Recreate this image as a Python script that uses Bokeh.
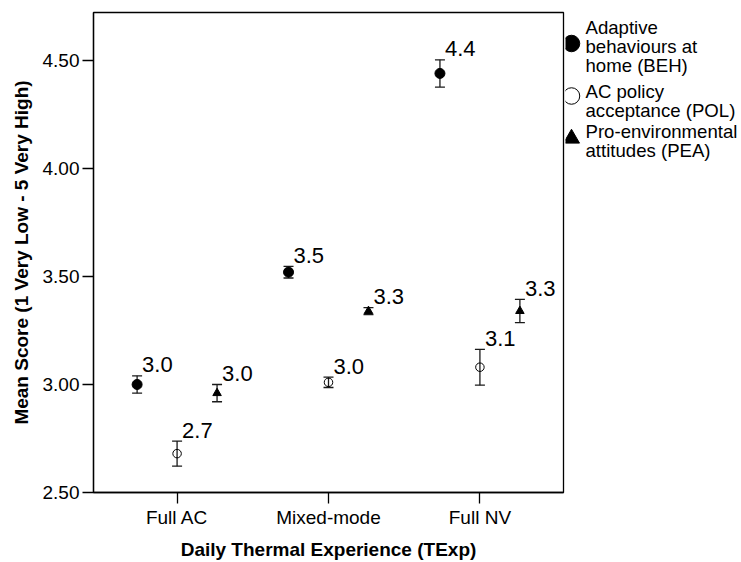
from bokeh.plotting import figure
from bokeh.layouts import row
from bokeh.models import (Range1d, FixedTicker, ColumnDataSource, Whisker,
                          TeeHead, PrintfTickFormatter)
from bokeh.core.properties import value
from bokeh.embed import file_html
from bokeh.resources import INLINE

# ---- data -------------------------------------------------------------
categories = ["Full AC", "Mixed-mode", "Full NV"]

beh_mean = [3.00, 3.52, 4.44]      # Adaptive behaviours at home (BEH)
beh_err = [0.040, 0.027, 0.063]

pol_mean = [2.68, 3.01, 3.08]      # AC policy acceptance (POL)
pol_err = [0.058, 0.024, 0.083]

pea_mean = [2.96, 3.34, 3.34]      # Pro-environmental attitudes (PEA)
pea_err = [0.040, 0.016, 0.054]

legend_lines = [
    ["Adaptive", "behaviours at", "home (BEH)"],
    ["AC policy", "acceptance (POL)"],
    ["Pro-environmental", "attitudes (PEA)"],
]

y_ticks = [2.5, 3.0, 3.5, 4.0, 4.5]

# ---- styling ----------------------------------------------------------
FONT = "Liberation Sans"
INK = "#000000"
BAR = "#1a1a1a"
DODGE = 0.264          # horizontal offset of the three series within a group

W_MAIN, W_LEG, H = 565, 176, 562
TOP, BOTTOM = 12, 70   # borders around the plotting frame

p = figure(width=W_MAIN, height=H, output_backend="svg", toolbar_location=None,
           title=None,
           x_range=Range1d(-0.552, 2.552), y_range=Range1d(2.5, 4.722),
           min_border_left=93, min_border_right=2, min_border_top=TOP,
           min_border_bottom=BOTTOM, background_fill_color="white",
           border_fill_color="white")
p.grid.visible = False
p.outline_line_color = INK
p.outline_line_width = 1.3

series = [
    (beh_mean, beh_err, -DODGE, dict(marker="circle", size=10, fill_color=INK, line_color=INK)),
    (pol_mean, pol_err, 0.0, dict(marker="circle", size=8.5, fill_color=None, line_color=INK, line_width=1)),
    (pea_mean, pea_err, DODGE, dict(marker="triangle", size=8.5, fill_color=INK, line_color=INK)),
]

for means, errs, off, style in series:
    xs = [i + off for i in range(len(categories))]
    src = ColumnDataSource(dict(
        x=xs, y=means,
        upper=[m + e for m, e in zip(means, errs)],
        lower=[m - e for m, e in zip(means, errs)],
        label=[f"{m:.1f}" for m in means],
    ))
    p.scatter("x", "y", source=src, **style)
    p.add_layout(Whisker(source=src, base="x", upper="upper", lower="lower",
                         line_color=BAR, line_width=1.3,
                         upper_head=TeeHead(size=10, line_color=BAR, line_width=1.3),
                         lower_head=TeeHead(size=10, line_color=BAR, line_width=1.3)))
    p.text("x", "upper", text="label", source=src, x_offset=5, y_offset=-11,
           text_font=value(FONT), text_font_size="22px", text_color=INK,
           text_align="left", text_baseline="alphabetic")

# ---- axes -------------------------------------------------------------
p.xaxis.ticker = FixedTicker(ticks=list(range(len(categories))))
p.xaxis.major_label_overrides = {i: c for i, c in enumerate(categories)}
p.yaxis.ticker = FixedTicker(ticks=y_ticks)
p.yaxis.formatter = PrintfTickFormatter(format="%.2f")

p.xaxis.axis_label = "Daily Thermal Experience (TExp)"
p.yaxis.axis_label = "Mean Score (1 Very Low - 5 Very High)"

for ax in (p.xaxis, p.yaxis):
    ax.axis_line_color = INK
    ax.axis_line_width = 1.3
    ax.major_tick_line_color = INK
    ax.major_tick_line_width = 1.3
    ax.major_tick_out = 11
    ax.major_tick_in = 0
    ax.minor_tick_line_color = None
    ax.major_label_text_font = FONT
    ax.major_label_text_font_size = "19px"
    ax.major_label_text_color = INK
    ax.major_label_standoff = 3
    ax.axis_label_text_font = FONT
    ax.axis_label_text_font_size = "19px"
    ax.axis_label_text_font_style = "bold"
    ax.axis_label_text_color = INK
    ax.axis_label_standoff = 8

# ---- legend panel ------------------------------------------------------
# The row aligns this panel's frame with the main frame, so its y range is
# expressed in canvas pixels (downwards) over the same vertical span.
leg = figure(width=W_LEG, height=H, output_backend="svg", toolbar_location=None,
             title=None,
             x_range=Range1d(0, W_LEG), y_range=Range1d(H - BOTTOM, TOP),
             x_axis_location=None, y_axis_location=None,
             min_border_left=0, min_border_right=0,
             min_border_top=TOP, min_border_bottom=BOTTOM,
             outline_line_color=None,
             background_fill_color="white", border_fill_color="white")
leg.grid.visible = False

first_baseline = [27, 91, 131]
marker_y = [43, 95.5, 138]
line_step = 19
text_x, marker_x = 20, 6

legend_styles = [
    dict(marker="circle", size=16.5, fill_color=INK, line_color=INK),
    dict(marker="circle", size=16.5, fill_color="white", line_color=INK, line_width=1),
    dict(marker="triangle", size=16, fill_color=INK, line_color=INK),
]

tx, ty, tt = [], [], []
for lines, y0 in zip(legend_lines, first_baseline):
    for k, t in enumerate(lines):
        tx.append(text_x)
        ty.append(y0 + k * line_step)
        tt.append(t)
leg.text(tx, ty, text=tt, text_font=value(FONT), text_font_size="18.6px",
         text_color=INK, text_align="left", text_baseline="alphabetic")

for style, my in zip(legend_styles, marker_y):
    leg.scatter([marker_x], [my], **style)

layout = row(p, leg)
open("out.html", "w").write(file_html(layout, INLINE))
